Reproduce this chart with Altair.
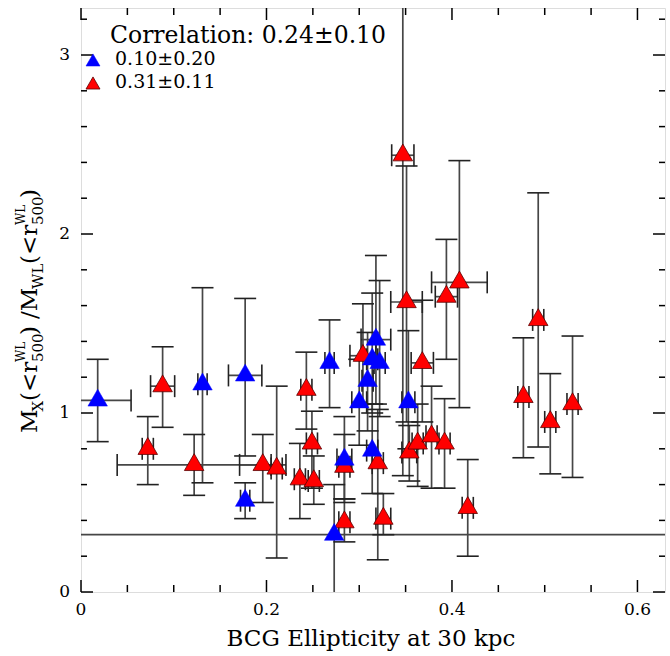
import altair as alt
import pandas as pd

# ---------------- data ----------------
# blue sample: ellipticity, its error, mass ratio, lower and upper bound
blue_x    = [0.018, 0.131, 0.177, 0.177, 0.268, 0.273, 0.284, 0.300, 0.309, 0.314, 0.318, 0.322, 0.314, 0.353]
blue_xerr = [0.036, 0.005, 0.018, 0.005, 0.005, 1.000, 0.008, 0.008, 0.006, 0.006, 0.016, 0.006, 0.006, 0.007]
blue_y    = [1.07, 1.16, 1.21, 0.51, 1.28, 0.32, 0.74, 1.06, 1.18, 1.30, 1.41, 1.28, 0.79, 1.06]
blue_ylo  = [0.84, 0.61, 0.76, 0.41, 1.03, -0.30, 0.52, 0.82, 0.90, 1.00, 1.05, 0.98, 0.55, 0.80]
blue_yhi  = [1.30, 1.70, 1.64, 0.61, 1.52, 0.60, 0.98, 1.30, 1.45, 1.67, 1.88, 1.74, 1.05, 1.46]

# red sample
red_x    = [0.072, 0.088, 0.122, 0.196, 0.211, 0.236, 0.243, 0.249, 0.251, 0.284, 0.284, 0.304, 0.320, 0.326,
            0.347, 0.351, 0.354, 0.363, 0.368, 0.378, 0.392, 0.394, 0.408, 0.417, 0.477, 0.493, 0.506, 0.530]
red_xerr = [0.006, 0.013, 0.083, 0.025, 0.006, 0.006, 0.006, 0.006, 0.006, 0.006, 0.006, 0.014, 0.006, 0.008,
            0.012, 0.017, 0.008, 0.006, 0.012, 0.006, 0.006, 0.012, 0.030, 0.006, 0.006, 0.006, 0.006, 0.006]
red_y    = [0.80, 1.15, 0.71, 0.71, 0.69, 0.63, 1.13, 0.83, 0.62, 0.70, 0.39, 1.32, 0.72, 0.41,
            2.44, 1.62, 0.78, 0.83, 1.28, 0.87, 0.83, 1.65, 1.73, 0.47, 1.09, 1.52, 0.95, 1.05]
red_ylo  = [0.60, 0.92, 0.54, 0.50, 0.19, 0.41, 0.91, 0.58, 0.49, 0.50, 0.28, 1.05, 0.18, 0.32,
            0.65, 0.95, 0.62, 0.59, 0.95, 0.58, 0.58, 1.30, 1.03, 0.20, 0.75, 0.81, 0.66, 0.64]
red_yhi  = [0.98, 1.37, 0.88, 0.88, 1.15, 0.83, 1.34, 1.01, 0.76, 0.88, 0.52, 1.61, 1.02, 0.55,
            4.00, 2.38, 0.93, 1.05, 1.63, 1.15, 1.08, 1.97, 2.41, 0.74, 1.42, 2.23, 1.22, 1.43]

x_major = [0.0, 0.2, 0.4, 0.6]
x_labels = ["0", "0.2", "0.4", "0.6"]
x_minor = [0.05, 0.1, 0.15, 0.25, 0.3, 0.35, 0.45, 0.5, 0.55]
y_major = [0, 1, 2, 3]
y_labels = ["0", "1", "2", "3"]
y_minor = [0.2, 0.4, 0.6, 0.8, 1.2, 1.4, 1.6, 1.8, 2.2, 2.4, 2.6, 2.8, 3.2]

corr_text = "Correlation: 0.24\u00b10.10"
legend_text = ["0.10\u00b10.20", "0.31\u00b10.11"]
x_title = "BCG Ellipticity at 30 kpc"

# ---------------- layout ----------------
W, H = 584, 584
X_DOMAIN = [0, 0.6297]
Y_DOMAIN = [0, 3.2626]
FONT = "DejaVu Serif"
BAR = "#464646"
TRI = "M0,-1.1547L1,0.5774L-1,0.5774Z"

rows = []
for g, xs_, xe_, ys_, lo_, hi_ in [("red", red_x, red_xerr, red_y, red_ylo, red_yhi),
                                   ("blue", blue_x, blue_xerr, blue_y, blue_ylo, blue_yhi)]:
    for i in range(len(xs_)):
        rows.append(dict(group=g, x=xs_[i], xlo=xs_[i] - xe_[i], xhi=xs_[i] + xe_[i],
                         y=ys_[i], ylo=lo_[i], yhi=hi_[i]))
df = pd.DataFrame(rows)

xsc = alt.Scale(domain=X_DOMAIN, nice=False, zero=False)
ysc = alt.Scale(domain=Y_DOMAIN, nice=False, zero=False)

base = alt.Chart(df)

vbar = base.mark_rule(color=BAR, strokeWidth=1.7, clip=True).encode(
    x=alt.X("x:Q", scale=xsc, axis=None),
    y=alt.Y("ylo:Q", scale=ysc, axis=None),
    y2="yhi:Q")
hbar = base.mark_rule(color=BAR, strokeWidth=1.7, clip=True).encode(
    x=alt.X("xlo:Q", scale=xsc, axis=None), x2="xhi:Q",
    y=alt.Y("y:Q", scale=ysc, axis=None))

def cap(xf, yf, orient):
    return base.mark_tick(orient=orient, size=22, thickness=1.6, color="#222222", opacity=1, clip=True).encode(
        x=alt.X(xf, scale=xsc, axis=None), y=alt.Y(yf, scale=ysc, axis=None))

caps = [cap("x:Q", "ylo:Q", "horizontal"), cap("x:Q", "yhi:Q", "horizontal"),
        cap("xlo:Q", "y:Q", "vertical"), cap("xhi:Q", "y:Q", "vertical")]

red_pts = base.transform_filter(alt.datum.group == "red").mark_point(
    shape=TRI, size=380, filled=True, fill="#ff0000", stroke="#5a0000", strokeWidth=0.8,
    opacity=1, clip=True).encode(
    x=alt.X("x:Q", scale=xsc, axis=None), y=alt.Y("y:Q", scale=ysc, axis=None))
blue_pts = base.transform_filter(alt.datum.group == "blue").mark_point(
    shape=TRI, size=380, filled=True, fill="#0000ff", stroke="#0000ff", strokeWidth=0.5,
    opacity=1, clip=True).encode(
    x=alt.X("x:Q", scale=xsc, axis=None), y=alt.Y("y:Q", scale=ysc, axis=None))

# inward ticks on all four sides
def xticks(vals, ln):
    d = alt.Chart(pd.DataFrame({"v": vals}))
    bot = d.mark_rule(color="black", strokeWidth=1.5).encode(
        x=alt.X("v:Q", scale=xsc, axis=None), y=alt.value(H), y2=alt.value(H - ln))
    top = d.mark_rule(color="black", strokeWidth=1.5).encode(
        x=alt.X("v:Q", scale=xsc, axis=None), y=alt.value(0), y2=alt.value(ln))
    return [bot, top]

def yticks(vals, ln):
    d = alt.Chart(pd.DataFrame({"v": vals}))
    lef = d.mark_rule(color="black", strokeWidth=1.5).encode(
        y=alt.Y("v:Q", scale=ysc, axis=None), x=alt.value(0), x2=alt.value(ln))
    rig = d.mark_rule(color="black", strokeWidth=1.5).encode(
        y=alt.Y("v:Q", scale=ysc, axis=None), x=alt.value(W), x2=alt.value(W - ln))
    return [lef, rig]

ticks = xticks(x_major, 12) + xticks(x_minor, 7) + yticks(y_major, 12) + yticks(y_minor, 6)

# tick labels
xlab = alt.Chart(pd.DataFrame({"v": x_major, "t": x_labels})).mark_text(
    align="center", baseline="top", font=FONT, fontSize=17, color="black").encode(
    x=alt.X("v:Q", scale=xsc, axis=None), y=alt.value(H + 10), text="t:N")
ylab = alt.Chart(pd.DataFrame({"v": y_major, "t": y_labels})).mark_text(
    align="right", baseline="middle", font=FONT, fontSize=17, color="black").encode(
    y=alt.Y("v:Q", scale=ysc, axis=None), x=alt.value(-11), text="t:N")

# annotations
ann = alt.Chart(pd.DataFrame({"a": [0]}))
corr = ann.mark_text(align="left", baseline="alphabetic", font=FONT, fontSize=23.5, color="black").encode(
    x=alt.value(29), y=alt.value(35), text=alt.value(corr_text))
leg_b_t = ann.mark_text(align="left", baseline="alphabetic", font=FONT, fontSize=19, color="black").encode(
    x=alt.value(34), y=alt.value(57), text=alt.value(legend_text[0]))
leg_r_t = ann.mark_text(align="left", baseline="alphabetic", font=FONT, fontSize=19, color="black").encode(
    x=alt.value(34), y=alt.value(80), text=alt.value(legend_text[1]))
leg_b_m = ann.mark_point(shape=TRI, size=196, filled=True, fill="#0000ff", stroke="#0000ff",
                         strokeWidth=0.5, opacity=1).encode(x=alt.value(12), y=alt.value(54))
leg_r_m = ann.mark_point(shape=TRI, size=196, filled=True, fill="#ff0000", stroke="#5a0000",
                         strokeWidth=0.8, opacity=1).encode(x=alt.value(12), y=alt.value(77))

xtitle = ann.mark_text(align="center", baseline="alphabetic", font=FONT, fontSize=23, color="black").encode(
    x=alt.value(290), y=alt.value(638), text=alt.value(x_title))

# y title built from pieces (text, offset along the text, shift across, font size)
MAIN, SUB, SUP = 23, 15, 12
pieces = [
    ("M", 0, 0, MAIN), ("X", 21.5, 6, SUB),
    ("(<r", 32, 0, MAIN), ("WL", 71, -12, SUP), ("500", 71, 6, SUB),
    (")", 98, 0, MAIN),
    ("/M", 114, 0, MAIN), ("WL", 144, 6, SUB),
    ("(<r", 169, 0, MAIN), ("WL", 208, -12, SUP), ("500", 208, 6, SUB),
    (")", 235, 0, MAIN),
]
ytitle = []
for txt, off, shift, fs in pieces:
    ytitle.append(ann.mark_text(align="left", baseline="alphabetic", angle=270, font=FONT, fontSize=fs,
                                color="black", dx=off, dy=shift).encode(
        x=alt.value(-44), y=alt.value(425), text=alt.value(txt)))

chart = alt.layer(
    vbar, hbar, *caps, red_pts, blue_pts, *ticks, xlab, ylab,
    corr, leg_b_t, leg_r_t, leg_b_m, leg_r_m, xtitle, *ytitle
).properties(
    width=W, height=H,
    autosize=alt.AutoSizeParams(type="none"),
    padding={"left": 81, "top": 8, "right": 5, "bottom": 64},
).configure_view(stroke="black", strokeWidth=2).configure(background="white")

chart.save("out.html", embed_options={"renderer": "svg", "actions": False})
